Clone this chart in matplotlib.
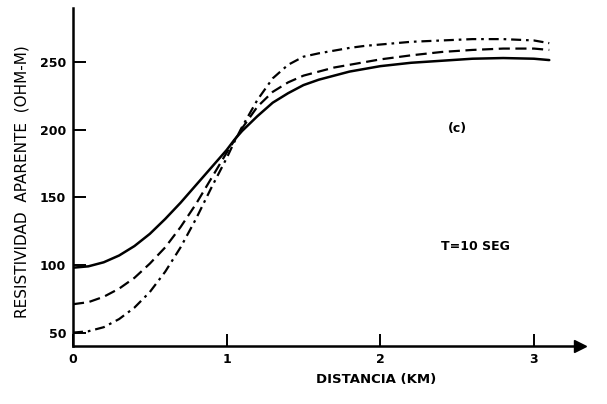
import matplotlib
matplotlib.use("Agg")
import matplotlib.pyplot as plt

# Data
x_km = [0.0, 0.1, 0.2, 0.3, 0.4, 0.5, 0.6, 0.7, 0.8, 0.9, 1.0, 1.05, 1.1, 1.2, 1.3,
        1.4, 1.5, 1.6, 1.7, 1.8, 1.9, 2.0, 2.2, 2.4, 2.6, 2.8, 3.0, 3.1]
solid = [98, 99, 102, 107, 114, 123, 134, 146, 159, 172, 185, 192.5, 199, 210, 220,
         227, 233, 237, 240, 243, 245, 247, 249.5, 251, 252.5, 253, 252.5, 251.5]
dashed = [71, 72.5, 76.5, 82.5, 90.5, 101, 113, 128, 145, 164, 183, 192, 201, 217, 228,
          235, 240, 243, 246, 248, 250, 252, 255, 257.5, 259, 260, 260, 259]
dashdot = [50, 51, 54, 60, 68.5, 80, 95, 113, 134, 157, 179, 191, 202, 222, 238,
           248, 254, 256.5, 258.5, 260.5, 262, 263, 265, 266, 267, 267, 266, 264]

xticks = [0, 1, 2, 3]
yticks = [50, 100, 150, 200, 250]

fig = plt.figure(figsize=(6.07, 4.04), dpi=100)
ax = fig.add_axes([73/607, 1-346/404, 507/607, 338/404])

ax.plot(x_km, solid, color="black", lw=1.8, solid_capstyle="round")
ax.plot(x_km, dashed, color="black", lw=1.6, dashes=(5, 2.5))
ax.plot(x_km, dashdot, color="black", lw=1.6, dashes=(4.5, 2.2, 1.2, 2.2))

ax.set_xlim(0, 3.3)
ax.set_ylim(40.1, 290)
for s in ["top", "right"]:
    ax.spines[s].set_visible(False)
for s in ["left", "bottom"]:
    ax.spines[s].set_linewidth(1.8)

ax.set_xticks(xticks)
ax.set_yticks(yticks)
ax.set_xticklabels([str(v) for v in xticks], fontsize=9, fontweight="bold")
ax.set_yticklabels([str(v) for v in yticks], fontsize=9, fontweight="bold")
ax.tick_params(axis="both", direction="in", length=9, width=1.4, pad=5)

# arrow at end of x axis
ax.plot([1.0], [0.0], marker=">", markersize=8, color="black",
        transform=ax.transAxes, clip_on=False)

fig.text(376/607, 1-380/404, "DISTANCIA (KM)", ha="center", va="center",
         fontsize=9.5, fontweight="bold")
fig.text(22/607, 1-182/404, "RESISTIVIDAD  APARENTE  (OHM-M)", ha="center", va="center",
         rotation=90, fontsize=11)

ax.text(2.5, 201, "(c)", ha="center", va="center", fontsize=9, fontweight="bold")
ax.text(2.62, 114, "T=10 SEG", ha="center", va="center", fontsize=9, fontweight="bold")

fig.savefig("out.png", dpi=100)
